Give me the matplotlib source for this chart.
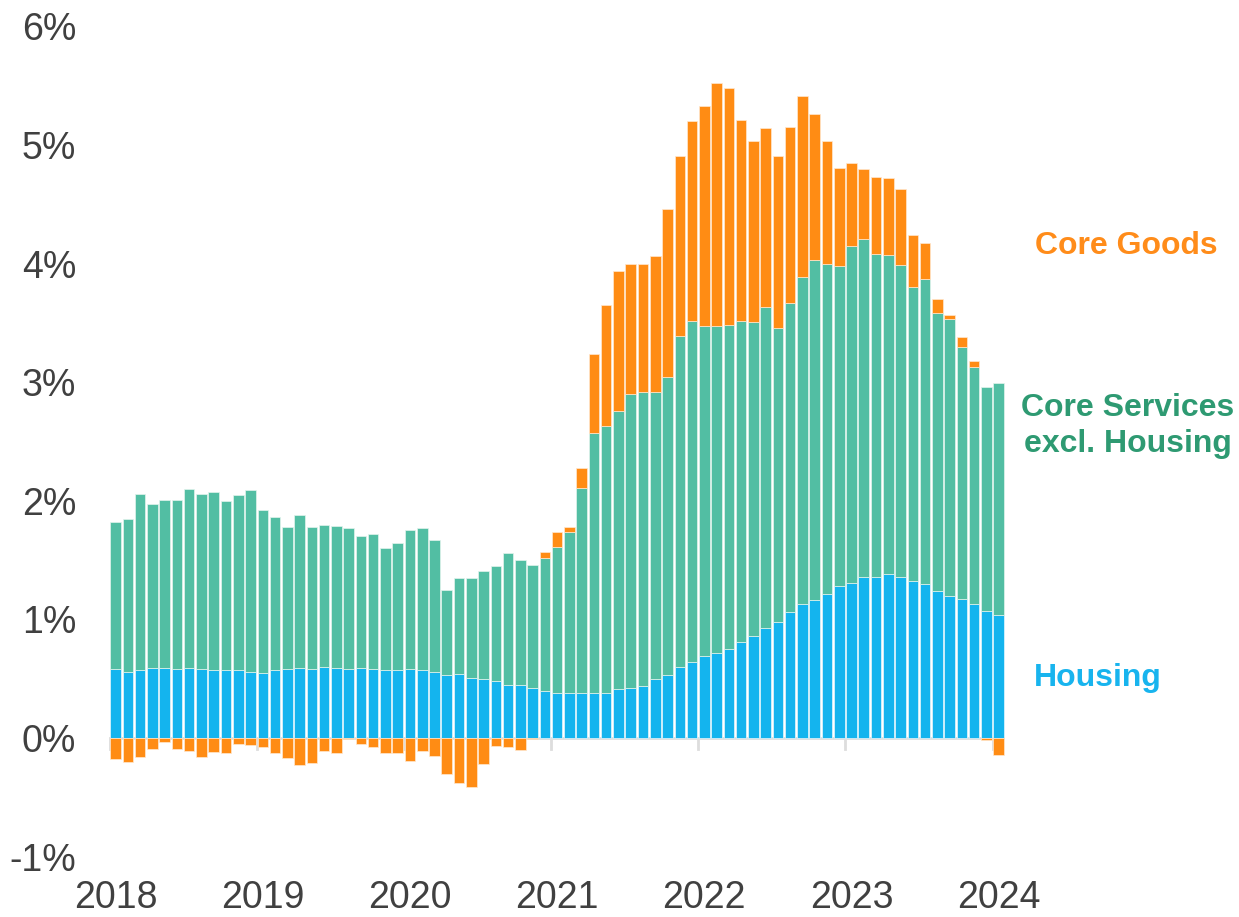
import numpy as np
import matplotlib.pyplot as plt

# monthly contributions to core inflation (percentage points), Jan 2018 - Jan 2024
housing = [0.58, 0.56, 0.57, 0.59, 0.59, 0.58, 0.59, 0.58, 0.57, 0.57, 0.57, 0.56,
           0.55, 0.57, 0.58, 0.59, 0.58, 0.60, 0.59, 0.58, 0.59, 0.58, 0.57, 0.57,
           0.58, 0.57, 0.56, 0.53, 0.54, 0.51, 0.50, 0.48, 0.45, 0.45, 0.42, 0.40,
           0.38, 0.38, 0.38, 0.38, 0.38, 0.41, 0.42, 0.44, 0.50, 0.53, 0.60, 0.64,
           0.69, 0.72, 0.75, 0.81, 0.86, 0.93, 0.98, 1.06, 1.13, 1.16, 1.21, 1.28,
           1.31, 1.36, 1.36, 1.38, 1.36, 1.32, 1.30, 1.24, 1.20, 1.17, 1.13, 1.07,
           1.04]
services = [1.24, 1.29, 1.49, 1.38, 1.42, 1.43, 1.51, 1.48, 1.50, 1.43, 1.48, 1.53,
            1.37, 1.29, 1.20, 1.29, 1.20, 1.20, 1.20, 1.19, 1.11, 1.14, 1.03, 1.07,
            1.17, 1.20, 1.11, 0.72, 0.81, 0.84, 0.91, 0.97, 1.11, 1.05, 1.04, 1.12,
            1.23, 1.36, 1.73, 2.19, 2.25, 2.35, 2.48, 2.48, 2.42, 2.51, 2.79, 2.88,
            2.78, 2.75, 2.73, 2.71, 2.65, 2.70, 2.48, 2.61, 2.76, 2.87, 2.79, 2.70,
            2.84, 2.85, 2.72, 2.69, 2.63, 2.48, 2.57, 2.34, 2.33, 2.13, 2.00, 1.89,
            1.95]
goods = [-0.18, -0.20, -0.16, -0.09, -0.03, -0.09, -0.11, -0.16, -0.12, -0.13, -0.05, -0.06,
         -0.08, -0.13, -0.17, -0.23, -0.21, -0.11, -0.13, -0.01, -0.05, -0.08, -0.13, -0.13,
         -0.19, -0.11, -0.15, -0.30, -0.38, -0.41, -0.22, -0.07, -0.08, -0.10, -0.01, 0.05,
         0.13, 0.04, 0.17, 0.67, 1.02, 1.18, 1.10, 1.08, 1.14, 1.42, 1.52, 1.68,
         1.86, 2.05, 2.00, 1.69, 1.52, 1.51, 1.45, 1.48, 1.52, 1.23, 1.03, 0.83,
         0.70, 0.59, 0.65, 0.65, 0.64, 0.44, 0.30, 0.12, 0.04, 0.08, 0.05, -0.02,
         -0.14]
years = ['2018', '2019', '2020', '2021', '2022', '2023', '2024']

blue = '#14B4EE'
green = '#52BEA3'
orange = '#FF8C14'

housing = np.array(housing)
services = np.array(services)
goods = np.array(goods)
x = np.arange(len(housing))

fig = plt.figure(figsize=(12.39, 9.17), dpi=100)
ax = fig.add_axes([109.5 / 1239, 1 - 856.6 / 917, 895.3 / 1239, 830.2 / 917])

# goods sit on top of the stack when positive, below zero when negative
goods_bottom = np.where(goods >= 0, housing + services, 0)

bw = 0.86
ax.bar(x, housing, width=bw, color=blue, edgecolor='#E6F6FC', linewidth=0.5, zorder=3)
ax.bar(x, services, bottom=housing, width=bw, color=green, edgecolor='#E3F4EE', linewidth=0.5, zorder=3)
ax.bar(x, goods, bottom=goods_bottom, width=bw, color=orange, edgecolor='#FFE8D0', linewidth=0.5, zorder=3)

ax.axhline(0, color='#DDDDDD', linewidth=2, zorder=2)
# year separators below the baseline
for i in range(len(years)):
    ax.plot([12 * i - 0.5, 12 * i - 0.5], [0, -0.09], color='#DDDDDD', linewidth=2,
            zorder=2, clip_on=False)

ax.set_xlim(-0.5, 72.5)
ax.set_ylim(-1, 6)
ax.set_yticks(range(-1, 7))
ax.set_yticklabels([f'{v}%' for v in range(-1, 7)])
ax.set_xticks(np.arange(len(years)) * 12)
ax.set_xticklabels(years)

for s in ax.spines.values():
    s.set_visible(False)
ax.tick_params(axis='both', length=0, labelsize=27, colors='#404040')
ax.tick_params(axis='y', pad=24)
ax.tick_params(axis='x', pad=17)
for lab in ax.get_xticklabels() + ax.get_yticklabels():
    lab.set_fontfamily('Liberation Sans')

def px(xp, yp):
    return xp / 1239, 1 - yp / 917

fig.text(*px(1126, 246), 'Core Goods', color='#FF8C1A', fontsize=23, fontweight='bold',
         family='Liberation Sans', ha='center', va='center')
fig.text(*px(1128, 426), 'Core Services\nexcl. Housing', color='#2E9A72', fontsize=23,
         fontweight='bold', family='Liberation Sans', ha='center', va='center',
         linespacing=1.25)
fig.text(*px(1098, 678), 'Housing', color='#18B4EE', fontsize=23, fontweight='bold',
         family='Liberation Sans', ha='center', va='center')

fig.savefig('out.png', dpi=100)
